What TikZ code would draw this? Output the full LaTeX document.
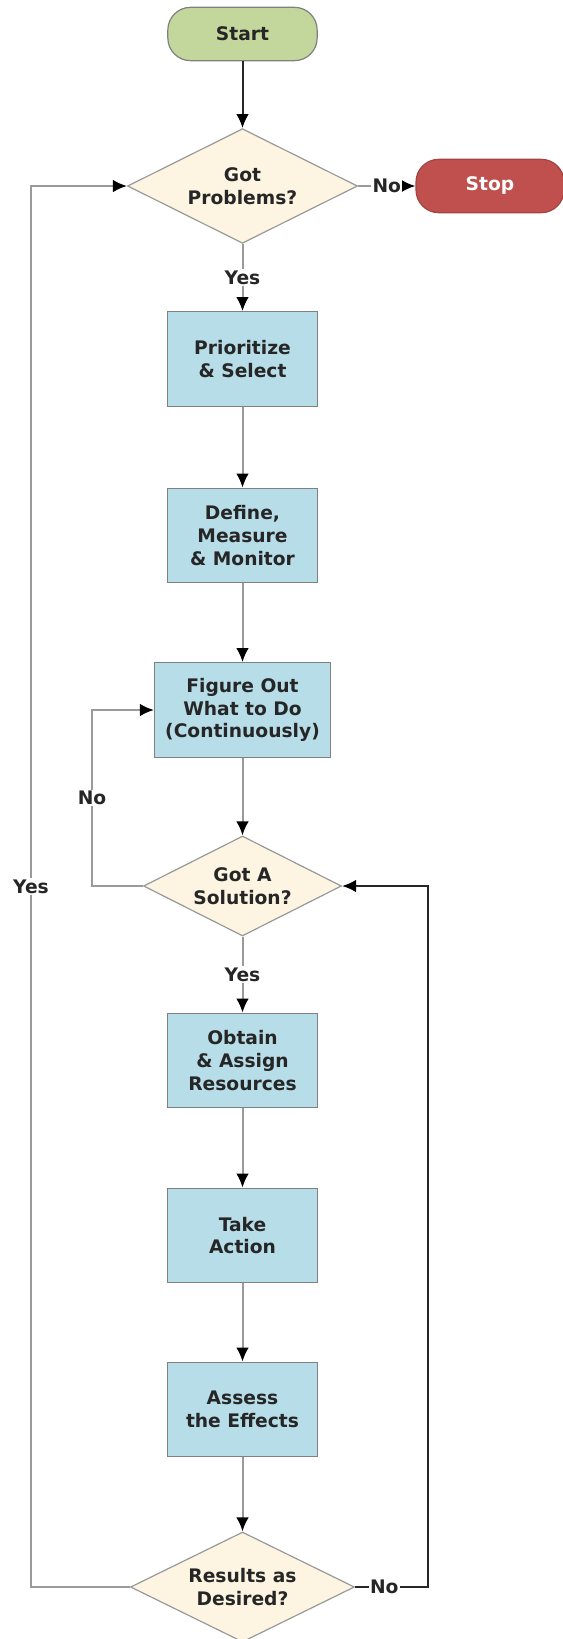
\documentclass[tikz,border=0pt]{standalone}
\usepackage{fontspec}
\setmainfont{DejaVu Sans}
\usetikzlibrary{shapes.geometric,arrows.meta}
\definecolor{startGreen}{HTML}{C3D69B}
\definecolor{stopRed}{HTML}{C0504D}
\definecolor{stepBlue}{HTML}{B7DDE8}
\definecolor{askCream}{HTML}{FDF5E2}
\definecolor{edgeGrey}{HTML}{9A9A9A}
\definecolor{textGrey}{HTML}{262626}

\begin{document}
\begin{tikzpicture}
[x=0.75pt, y=-0.75pt, font=\fontsize{14}{17}\selectfont\bfseries,
 lineDecorate/.style={-{Latex[length=10.5pt,width=9.5pt,color=black]},line width=1.5pt,draw=edgeGrey},
 darkLine/.style={lineDecorate,draw=black!85},
 termDecorate/.style={shape=rectangle,rounded corners=17pt,draw=gray,line width=0.9pt,minimum width=112pt,minimum height=40pt},
 boxDecorate/.style={shape=rectangle,draw=gray,line width=0.9pt,fill=stepBlue,text=textGrey,align=center,minimum width=113pt,minimum height=71pt},
 askDecorate/.style={shape=diamond,aspect=2,draw=gray!80,line width=0.9pt,fill=askCream,text=textGrey,align=center,inner sep=0pt},
 labelDecorate/.style={fill=white,inner sep=1pt,text=textGrey}]

 \useasboundingbox (0,0) rectangle (563,1639);

 \node (start) at (242.5,34) [termDecorate, fill=startGreen, text=textGrey] {Start};
 \node (stop) at (490,186) [termDecorate, fill=stopRed, draw=stopRed!85!black, text=white, minimum width=111pt] {Stop};

 \node (gotprob) at (242.5,186) [askDecorate, minimum width=172.5pt, minimum height=86pt] {Got\\Problems?};
 \node (gotsol) at (242.5,886) [askDecorate, minimum width=148.5pt, minimum height=75pt] {Got A\\Solution?};
 \node (results) at (242.5,1587) [askDecorate, minimum width=168pt, minimum height=82.5pt] {Results as\\Desired?};

 \node (prior) at (242.5,359) [boxDecorate] {Prioritize\\\& Select};
 \node (define) at (242.5,535.5) [boxDecorate] {Define,\\Measure\\\& Monitor};
 \node (figure) at (242.5,710) [boxDecorate, minimum width=132pt] {Figure Out\\What to Do\\(Continuously)};
 \node (obtain) at (242.5,1060.5) [boxDecorate] {Obtain\\\& Assign\\Resources};
 \node (action) at (242.5,1235.5) [boxDecorate] {Take\\Action};
 \node (assess) at (242.5,1409.5) [boxDecorate] {Assess\\the Effects};

 \coordinate (solBend) at (92,710);
 \coordinate (yesBend) at (31,186);
 \coordinate (noBend) at (428,1587);

\path
\foreach \startnode/\endnode in {prior/define,define/figure,figure/gotsol,
obtain/action,action/assess,assess/results}
        {
          (\startnode) edge[lineDecorate] (\endnode)
        }

(start) edge[darkLine] (gotprob)
(gotprob) edge[lineDecorate] node[labelDecorate]{No} (stop)
(gotprob) edge[lineDecorate] node[labelDecorate]{Yes} (prior)
(gotsol) edge[lineDecorate] node[labelDecorate]{Yes} (obtain);

 \draw[lineDecorate] (gotsol.west) -| node[labelDecorate, pos=0.75]{No} (solBend) -- (figure.west);
 \draw[lineDecorate] (results.west) -| node[labelDecorate, pos=0.75]{Yes} (yesBend) -- (gotprob.west);
 \draw[darkLine] (results.east) -- node[labelDecorate, pos=0.4]{No} (noBend) |- (gotsol.east);
\end{tikzpicture}
\end{document}
